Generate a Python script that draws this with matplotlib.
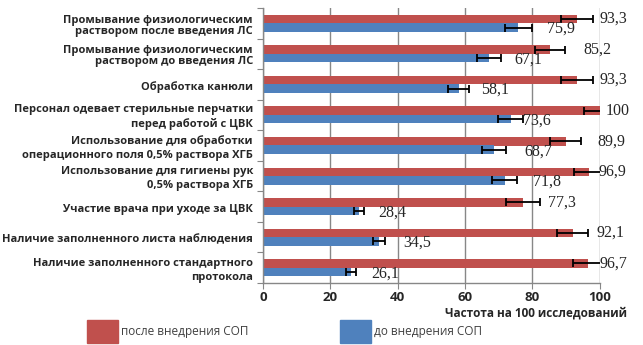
import numpy as np
import matplotlib.pyplot as plt
from matplotlib.patches import Rectangle

categories = [
    'Промывание физиологическим\nраствором после введения ЛС',
    'Промывание физиологическим\nраствором до введения ЛС',
    'Обработка канюли',
    'Персонал одевает стерильные перчатки\nперед работой с ЦВК',
    'Использование для обработки\nоперационного поля 0,5% раствора ХГБ',
    'Использование для гигиены рук\n0,5% раствора ХГБ',
    'Участие врача при уходе за ЦВК',
    'Наличие заполненного листа наблюдения',
    'Наличие заполненного стандартного\nпротокола',
]
after_sop = [93.3, 85.2, 93.3, 100, 89.9, 96.9, 77.3, 92.1, 96.7]
before_sop = [75.9, 67.1, 58.1, 73.6, 68.7, 71.8, 28.4, 34.5, 26.1]
after_err = [4.7, 4.4, 4.7, 4.7, 4.5, 4.5, 5.0, 4.6, 4.7]
before_err = [3.9, 3.5, 3.0, 3.7, 3.5, 3.7, 1.5, 1.7, 1.5]

# label placement (pixels right of the bar end), hand-tuned like the original
after_lbl_dx = [23, 34, 23, 6, 32, 9, 25, 24, 11]
before_lbl_dx = [29, 26, 23, 12, 30, 28, 20, 24, 20]
# line spacing of the category labels
lbl_spacing = [1.0, 1.0, 1.0, 1.35, 1.35, 1.35, 1.0, 1.0, 1.35]

red = '#C0504D'
blue = '#4F81BD'
grid_c = '#878787'

plt.rcParams['font.family'] = ['Open Sans', 'DejaVu Sans']

fig = plt.figure(figsize=(6.43, 3.45), dpi=100)
ax = fig.add_axes([263 / 643, 1 - 283 / 345, 336.5 / 643, 275 / 345])

y = np.arange(len(categories))
h = 0.28
ax.barh(y - h / 2, after_sop, height=h, color=red, zorder=2)
ax.barh(y + h / 2, before_sop, height=h, color=blue, zorder=2)
ax.errorbar(after_sop, y - h / 2, xerr=after_err, fmt='none', ecolor='black',
            elinewidth=1.3, capsize=3, capthick=1.3, zorder=3)
ax.errorbar(before_sop, y + h / 2, xerr=before_err, fmt='none', ecolor='black',
            elinewidth=1.3, capsize=3, capthick=1.3, zorder=3)

for i in range(len(categories)):
    ax.annotate(f'{after_sop[i]:g}'.replace('.', ','), (after_sop[i], y[i] - h / 2),
                xytext=(after_lbl_dx[i] * 0.72, 0), textcoords='offset points',
                va='center', ha='left', fontsize=11.5, family='Liberation Serif',
                color='#262626', annotation_clip=False)
    ax.annotate(f'{before_sop[i]:g}'.replace('.', ','), (before_sop[i], y[i] + h / 2),
                xytext=(before_lbl_dx[i] * 0.72, -1), textcoords='offset points',
                va='center', ha='left', fontsize=11.5, family='Liberation Serif',
                color='#262626', annotation_clip=False)

ax.set_xlim(0, 100)
ax.set_ylim(len(categories) - 0.5, -0.5)
ax.set_xticks(range(0, 101, 20))
ax.set_xticklabels([str(v) for v in range(0, 101, 20)], fontsize=9.5,
                   fontweight='bold', color='#262626')
ax.tick_params(axis='x', length=4, color=grid_c, pad=2)

ax.set_yticks(np.arange(len(categories) + 1) - 0.5)
ax.set_yticklabels([])
ax.tick_params(axis='y', length=4, color=grid_c)
for i, lab in enumerate(categories):
    ax.text(-3, y[i] + 0.08, lab, ha='right', va='center', fontsize=8,
            fontweight='bold', color='#262626', linespacing=lbl_spacing[i],
            transform=ax.get_yaxis_transform() if False else ax.transData)

ax.grid(axis='x', color=grid_c, linewidth=1, zorder=0)
ax.set_axisbelow(True)
for s in ['top', 'right']:
    ax.spines[s].set_visible(False)
for s in ['left', 'bottom']:
    ax.spines[s].set_color(grid_c)
    ax.spines[s].set_linewidth(1)

fig.text(627 / 643, 1 - 313 / 345, 'Частота на 100 исследований', ha='right',
         va='center', fontsize=8.5, fontweight='bold', color='#262626')

# legend
fig.patches.append(Rectangle((87 / 643, 1 - 343 / 345), 31 / 643, 23 / 345,
                             color=red, transform=fig.transFigure))
fig.patches.append(Rectangle((340 / 643, 1 - 343 / 345), 31 / 643, 23 / 345,
                             color=blue, transform=fig.transFigure))
fig.text(121 / 643, 1 - 332 / 345, 'после внедрения СОП', ha='left', va='center',
         fontsize=8.5, color='#404040')
fig.text(374 / 643, 1 - 332 / 345, 'до внедрения СОП', ha='left', va='center',
         fontsize=8.5, color='#404040')

fig.savefig('out.png', dpi=100)
